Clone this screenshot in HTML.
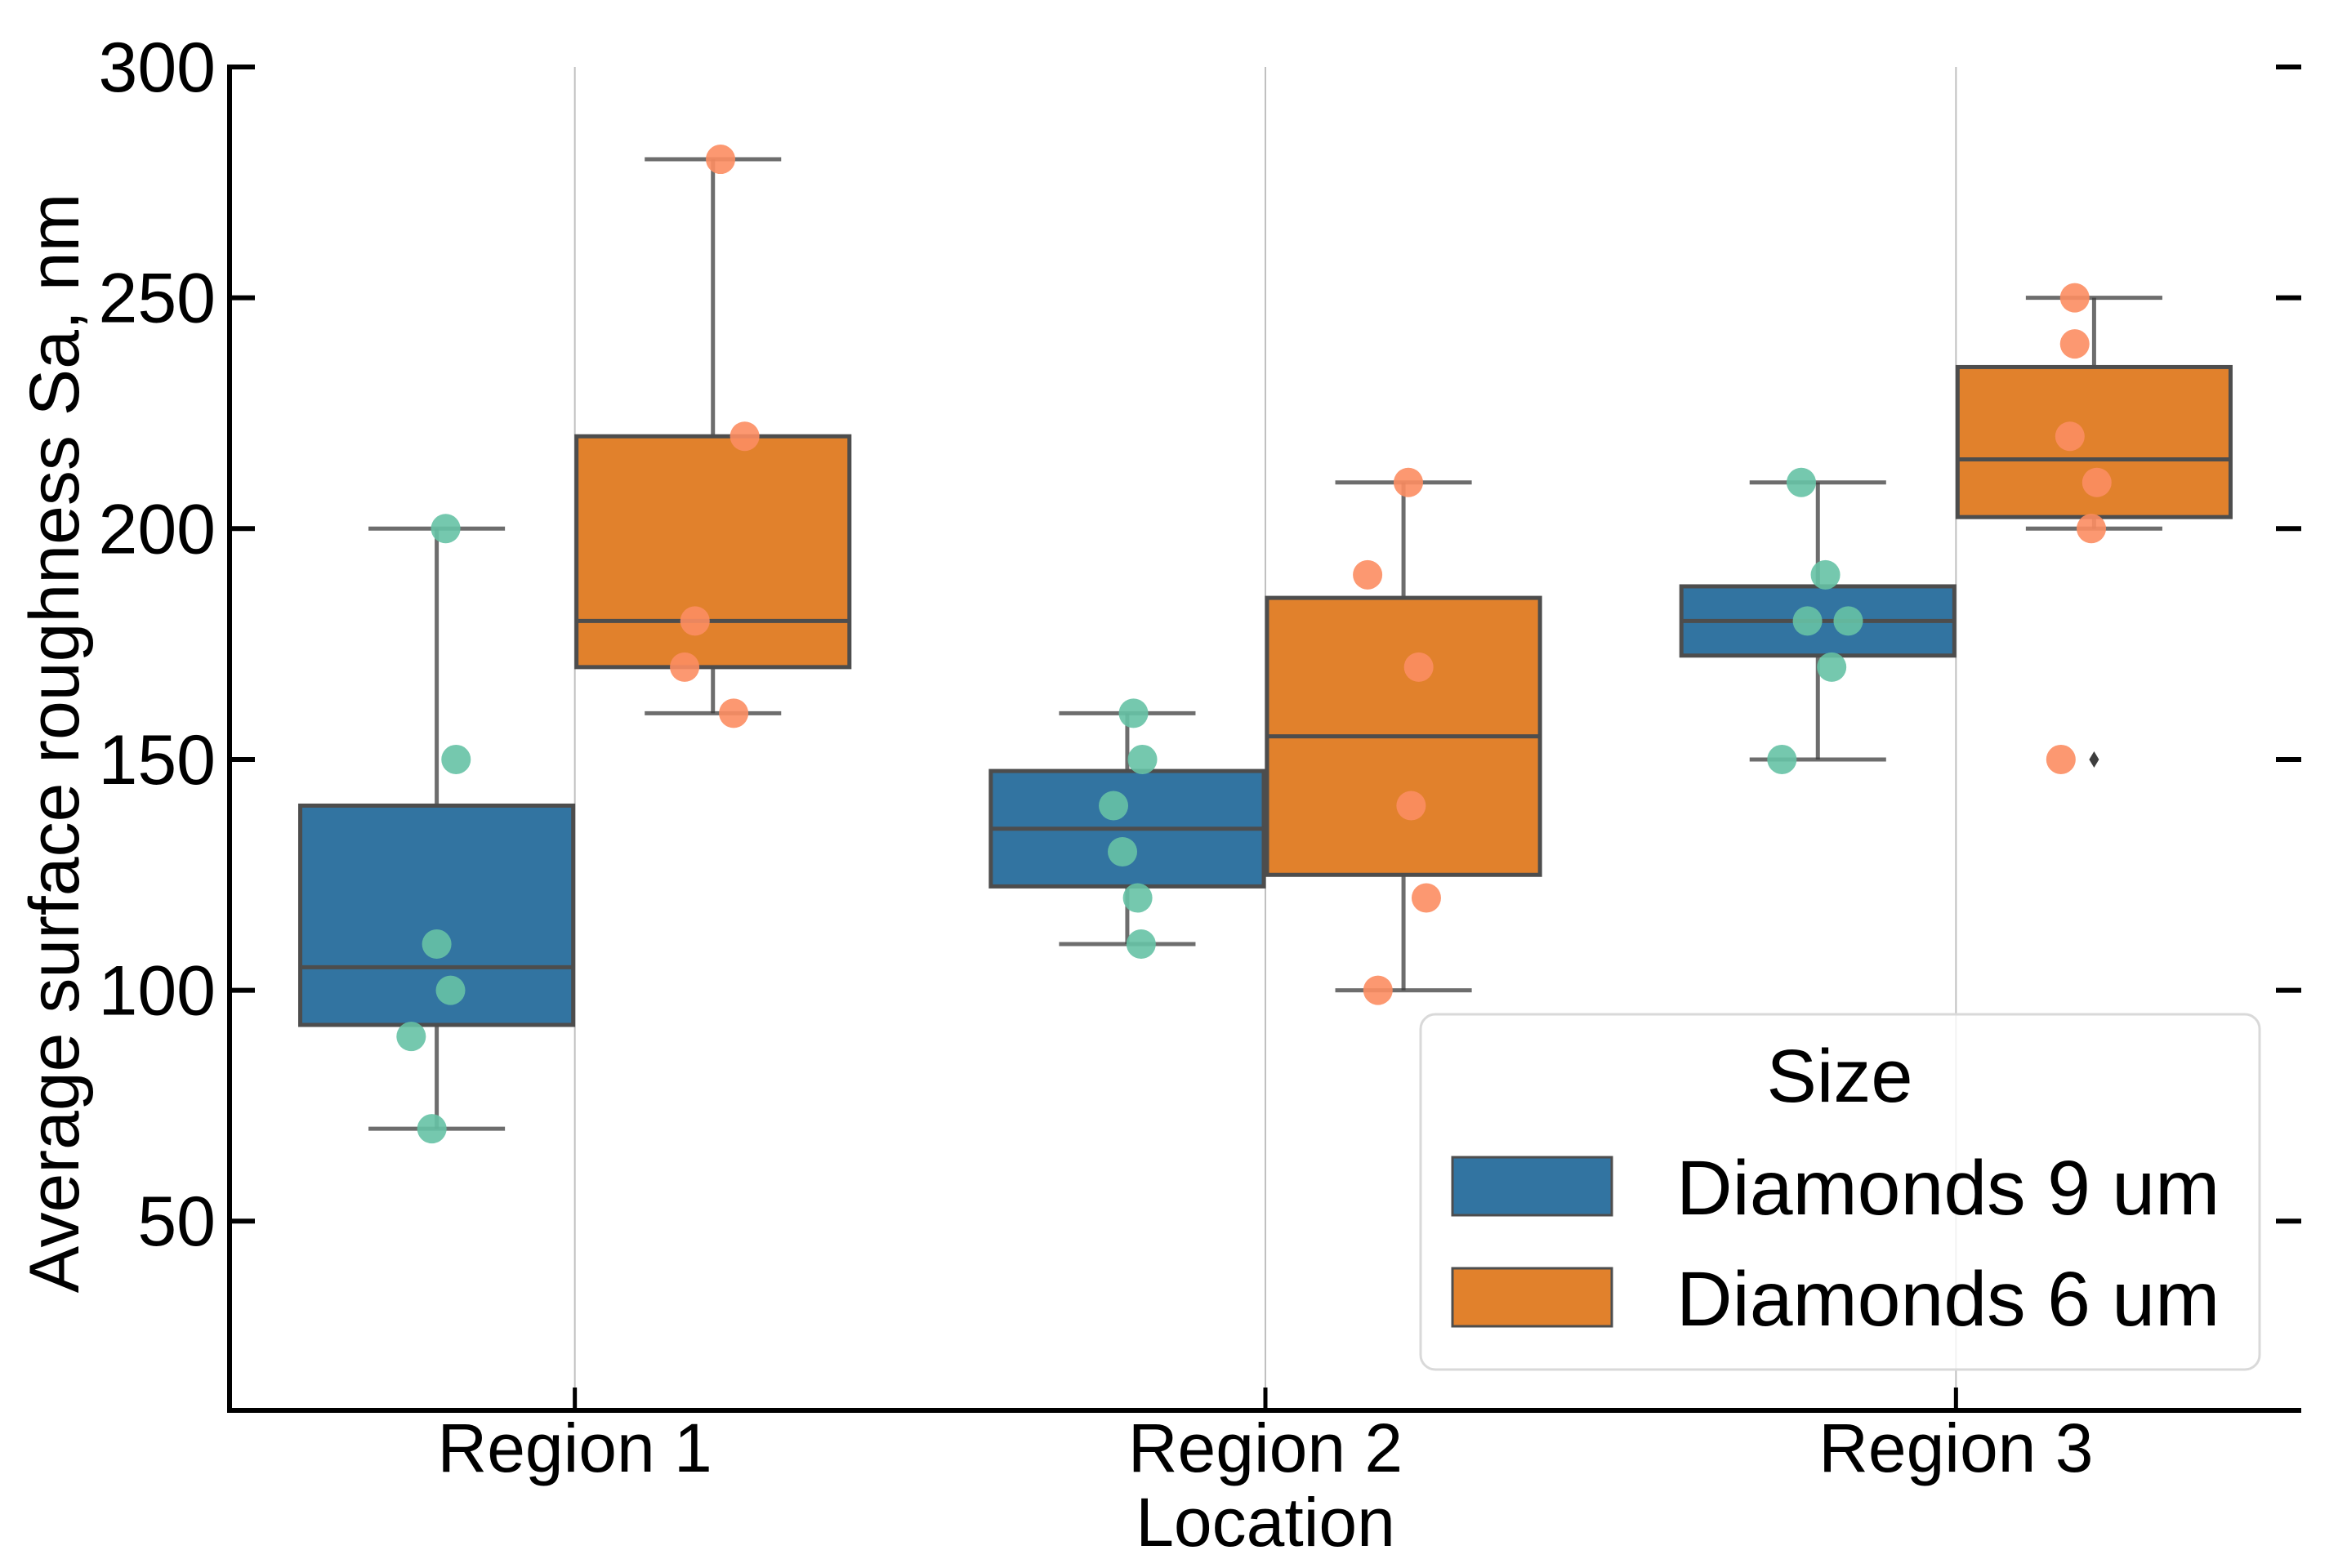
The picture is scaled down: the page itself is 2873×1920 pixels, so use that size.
<!DOCTYPE html>
<html><head><meta charset="utf-8"><style>
html,body{margin:0;padding:0;background:#fff;}
svg{display:block;font-family:"Liberation Sans",Arial,sans-serif;}
</style></head><body>
<svg id="chart" width="2873" height="1920" viewBox="0 0 2873 1920" xmlns="http://www.w3.org/2000/svg">
<g id="grid"></g><g id="boxes"></g><g id="points"></g><g id="axes"></g><g id="legend"></g>
</svg>
<script>
const categories = ["Region 1", "Region 2", "Region 3"];
const hues = ["Diamonds 9 um", "Diamonds 6 um"];
// [whiskerLow, q1, median, q3, whiskerHigh]
const stats9 = [[70, 92.5, 105, 140, 200], [110, 122.5, 135, 147.5, 160], [150, 172.5, 180, 187.5, 210]];
const stats6 = [[160, 170, 180, 220, 280], [100, 125, 155, 185, 210], [200, 202.5, 215, 235, 250]];
const outliers9 = [[], [], []];
const outliers6 = [[], [], [150]];
const points9 = [[200, 150, 110, 100, 90, 70], [160, 150, 140, 130, 120, 110], [210, 190, 180, 180, 170, 150]];
const points6 = [[280, 220, 180, 170, 160], [210, 190, 170, 140, 120, 100], [250, 240, 220, 210, 200, 150]];
// horizontal jitter as a fraction of the category band
const jitter9 = [[0.013, 0.028, 0.000, 0.020, -0.037, -0.007], [0.009, 0.022, -0.020, -0.007, 0.015, 0.020], [-0.024, 0.011, -0.015, 0.044, 0.020, -0.052]];
const jitter6 = [[0.011, 0.046, -0.026, -0.041, 0.030], [0.007, -0.052, 0.022, 0.011, 0.033, -0.037], [-0.028, -0.028, -0.035, 0.004, -0.004, -0.048]];
const yTicks = [50, 100, 150, 200, 250, 300];

const NS = "http://www.w3.org/2000/svg";
const L = 281, R = 2817, T = 82, B = 1727;
const yMin = 9, yMax = 300;
const band = (R - L) / categories.length;
function xCat(i) { return L + band * (i + 0.5); }
function xHue(i, h) { return xCat(i) + (h === 0 ? -0.2 : 0.2) * band; }
function y(v) { return T + (yMax - v) / (yMax - yMin) * (B - T); }
function el(tag, attrs, parent) {
  const e = document.createElementNS(NS, tag);
  for (const k in attrs) e.setAttribute(k, attrs[k]);
  parent.appendChild(e);
  return e;
}
const gGrid = document.getElementById("grid"), gBox = document.getElementById("boxes"),
      gPts = document.getElementById("points"), gAx = document.getElementById("axes"),
      gLeg = document.getElementById("legend");
const boxColors = ["#3274a1", "#e1812c"], ptColors = ["#66c2a5", "#fc8d62"];
const lineC = "rgba(60,60,60,0.75)";

categories.forEach((c, i) => {
  const gl = el("line", {x1: xCat(i), x2: xCat(i), y1: T, y2: B, stroke: "#c0c0c0", "stroke-width": 2}, gGrid);
  
  
});

const allStats = [stats9, stats6], allOut = [outliers9, outliers6], allPts = [points9, points6], allJit = [jitter9, jitter6];
const bw = band * 0.4 - 4;
for (let h = 0; h < 2; h++) {
  categories.forEach((c, i) => {
    const s = allStats[h][i], cx = xHue(i, h);
    const g = el("g", {}, gBox);
    
    
    el("line", {x1: cx, x2: cx, y1: y(s[0]), y2: y(s[1]), stroke: lineC, "stroke-width": 5}, g);
    el("line", {x1: cx, x2: cx, y1: y(s[3]), y2: y(s[4]), stroke: lineC, "stroke-width": 5}, g);
    el("line", {x1: cx - bw / 4, x2: cx + bw / 4, y1: y(s[0]), y2: y(s[0]), stroke: lineC, "stroke-width": 5}, g);
    el("line", {x1: cx - bw / 4, x2: cx + bw / 4, y1: y(s[4]), y2: y(s[4]), stroke: lineC, "stroke-width": 5}, g);
    el("rect", {x: cx - bw / 2, y: y(s[3]), width: bw, height: y(s[1]) - y(s[3]), fill: boxColors[h], stroke: "#4d4d4d", "stroke-width": 5}, g);
    el("line", {x1: cx - bw / 2, x2: cx + bw / 2, y1: y(s[2]), y2: y(s[2]), stroke: "#4d4d4d", "stroke-width": 5}, g);
    allOut[h][i].forEach(o => {
      const d = el("path", {d: `M${cx},${y(o) - 10} L${cx + 6},${y(o)} L${cx},${y(o) + 10} L${cx - 6},${y(o)} Z`, fill: "#3d3d3d"}, g);
      
      
    });
    allPts[h][i].forEach((v, k) => {
      const p = el("circle", {cx: cx + allJit[h][i][k] * band, cy: y(v), r: 18, fill: ptColors[h], "fill-opacity": 0.9}, gPts);
      
      
    });
  });
}

// axes
let a = el("line", {x1: L, x2: L, y1: T - 3, y2: B + 3, stroke: "#000", "stroke-width": 6}, gAx);
 
a = el("line", {x1: L - 3, x2: R, y1: B, y2: B, stroke: "#000", "stroke-width": 6}, gAx);
 
yTicks.forEach(t => {
  el("line", {x1: L, x2: L + 31, y1: y(t), y2: y(t), stroke: "#000", "stroke-width": 6}, gAx);
  el("line", {x1: R - 31, x2: R, y1: y(t), y2: y(t), stroke: "#000", "stroke-width": 6}, gAx);
  const tx = el("text", {x: 264, y: y(t) + 30, "text-anchor": "end", "font-size": 86, fill: "#000"}, gAx);
  tx.textContent = t;
  
  
});
categories.forEach((c, i) => {
  el("line", {x1: xCat(i), x2: xCat(i), y1: B, y2: B - 28, stroke: "#000", "stroke-width": 5}, gAx);
  const tx = el("text", {x: xCat(i), y: 1802, "text-anchor": "middle", "font-size": 84, fill: "#000"}, gAx);
  tx.textContent = c;
  
  
});
let t = el("text", {x: 1549, y: 1893, "text-anchor": "middle", "font-size": 84, fill: "#000"}, gAx);
t.textContent = "Location";
 
t = el("text", {x: 0, y: 0, "text-anchor": "middle", "font-size": 86, fill: "#000", transform: "translate(96,910) rotate(-90)"}, gAx);
t.textContent = "Average surface roughness Sa, nm";
 

// legend
let lg = el("rect", {x: 1739, y: 1242, width: 1027, height: 435, rx: 18, fill: "rgba(255,255,255,0.8)", stroke: "#d9d9d9", "stroke-width": 3}, gLeg);
 
t = el("text", {x: 2252, y: 1349, "text-anchor": "middle", "font-size": 92, fill: "#000"}, gLeg);
t.textContent = "Size";
 
hues.forEach((hn, h) => {
  const yy = 1417 + h * 136;
  const g = el("g", {}, gLeg);
  
  
  el("rect", {x: 1778, y: yy, width: 195, height: 71, fill: boxColors[h], stroke: "#4d4d4d", "stroke-width": 3}, g);
  const tx = el("text", {x: 2052, y: yy + 70, "font-size": 95, fill: "#000"}, g);
  tx.textContent = hn;
});
</script>
</body></html>
